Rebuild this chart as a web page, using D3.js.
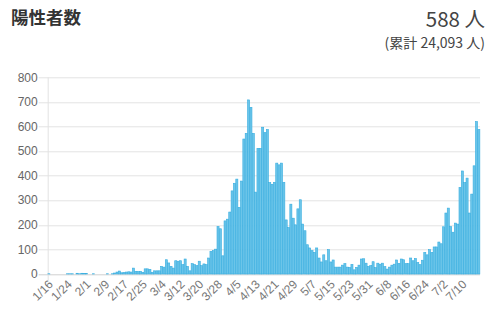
<!DOCTYPE html>
<html>
<head>
<meta charset="utf-8">
<script src="https://cdn.jsdelivr.net/npm/d3@7"></script>
<style>
  body { margin: 0; background: #fff; }
  svg { display: block; }
</style>
</head>
<body>
<div id="chart"></div>
<script>
var width = 495, height = 313;
var margin = { top: 77.3, right: 15, bottom: 39, left: 47.7 };

// daily positive counts, 1/16 -> 7/17
var startDate = new Date(2020, 0, 16);
var dailyCases = [
  1,0,0,0,0,0,0,0,1,1,1,0,3,1,3,2,
  2,0,0,1,0,0,0,0,0,1,0,
  1,4,8,12,5,6,8,9,8,24,11,10,
  11,7,21,21,19,7,13,13,13,31,28,
  58,45,31,24,54,52,54,38,61,31,13,42,38,34,52,34,41,
  38,65,92,95,101,193,184,74,216,223,252,338,369,386,271,378,549,572,708,678,
  572,333,511,511,597,575,588,372,365,373,451,444,451,373,220,189,284,227,200,265,
  302,203,176,119,106,95,88,106,65,49,78,54,99,
  49,57,28,28,28,36,42,28,27,39,17,27,36,61,62,44,31,34,50,26,
  44,40,44,30,20,28,36,40,57,43,
  61,58,42,42,65,54,63,47,38,56,88,78,99,88,110,110,130,123,192,248,
  268,193,170,207,203,352,419,372,390,248,325,440,620,588
];
var yTicks = [0, 100, 200, 300, 400, 500, 600, 700, 800];
var titleText = "陽性者数";
var latestText = "588 人";
var totalText = "(累計 24,093 人)";

var dates = dailyCases.map(function(d, i) {
  var t = new Date(startDate);
  t.setDate(t.getDate() + i);
  return (t.getMonth() + 1) + "/" + t.getDate();
});

var svg = d3.select("#chart")
  .append("svg")
  .attr("width", width)
  .attr("height", height);

var plotW = width - margin.left - margin.right,
    plotH = height - margin.top - margin.bottom;

var g = svg.append("g")
  .attr("transform", "translate(" + margin.left + "," + margin.top + ")");

var x = d3.scaleBand()
  .domain(dates)
  .range([0, plotW])
  .paddingInner(0.12)
  .paddingOuter(0.06);

var y = d3.scaleLinear()
  .domain([0, 800])
  .range([plotH, 0]);

// grid lines
g.selectAll(".grid")
  .data(yTicks)
  .enter()
  .append("line")
  .attr("x1", -9)
  .attr("x2", plotW)
  .attr("y1", function(d) { return Math.round(y(d)) + 0.5; })
  .attr("y2", function(d) { return Math.round(y(d)) + 0.5; })
  .attr("stroke", function(d) { return d === 0 ? "#d0d0d0" : "#e3e3e3"; })
  .attr("stroke-width", 1);

// left axis line
g.append("line")
  .attr("x1", 0.5).attr("x2", 0.5)
  .attr("y1", 0).attr("y2", plotH + 6)
  .attr("stroke", "#e3e3e3");

// y tick labels
g.selectAll(".ylab")
  .data(yTicks)
  .enter()
  .append("text")
  .attr("x", -10)
  .attr("y", function(d) { return y(d); })
  .attr("dy", "0.35em")
  .attr("text-anchor", "end")
  .attr("font-family", "Liberation Sans, Arial, sans-serif")
  .attr("font-size", 12)
  .attr("fill", "#666")
  .text(function(d) { return d; });

// bars
g.selectAll(".bar")
  .data(dailyCases)
  .enter()
  .append("rect")
  .attr("x", function(d, i) { return x(dates[i]); })
  .attr("y", function(d) { return y(d); })
  .attr("width", x.bandwidth())
  .attr("height", function(d) { return plotH - y(d); })
  .attr("fill", "#6cc5e9")
  .attr("stroke", "#36ade0")
  .attr("stroke-width", 0.6);

// x tick labels every 8 days
var labelIdx = d3.range(0, dates.length, 8);
g.selectAll(".xlab")
  .data(labelIdx)
  .enter()
  .append("text")
  .attr("transform", function(i) {
    return "translate(" + (x(dates[i]) + x.bandwidth() / 2 + 2) + "," + (plotH + 8) + ") rotate(-45)";
  })
  .attr("text-anchor", "end")
  .attr("dy", "0.35em")
  .attr("font-family", "Liberation Sans, Arial, sans-serif")
  .attr("font-size", 12)
  .attr("fill", "#777")
  .text(function(i) { return dates[i]; });

// header texts
svg.append("text")
  .attr("x", 11)
  .attr("y", 23.5)
  .attr("font-family", "Noto Sans CJK JP, sans-serif")
  .attr("font-weight", "bold")
  .attr("font-size", 17.5)
  .attr("fill", "#333")
  .text(titleText);

svg.append("text")
  .attr("x", 485)
  .attr("y", 27)
  .attr("text-anchor", "end")
  .attr("font-family", "Noto Sans CJK JP, sans-serif")
  .attr("font-size", 20.5)
  .attr("fill", "#444")
  .text(latestText);

svg.append("text")
  .attr("x", 485)
  .attr("y", 48)
  .attr("text-anchor", "end")
  .attr("font-family", "Noto Sans CJK JP, sans-serif")
  .attr("font-size", 14)
  .attr("fill", "#444")
  .text(totalText);
</script>
</body>
</html>
